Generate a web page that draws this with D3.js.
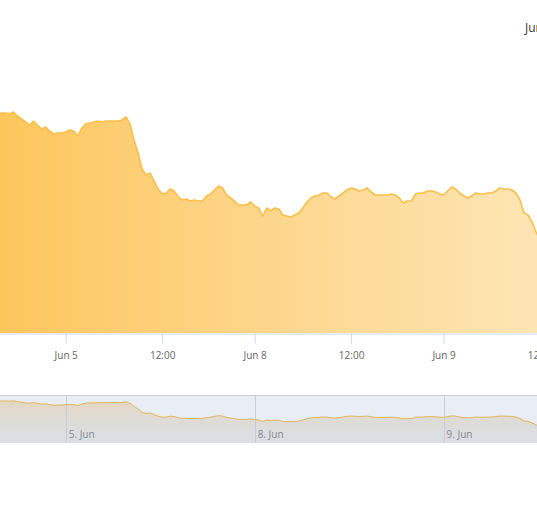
<!DOCTYPE html>
<html><head><meta charset="utf-8">
<script src="https://cdn.jsdelivr.net/npm/d3@7"></script>
<style>html,body{margin:0;padding:0;background:#fff;overflow:hidden}</style>
</head><body><svg id="c" width="537" height="512"></svg>
<script>
// ---- data ----
const price = [
128.20,128.20,128.20,128.19,128.21,128.17,128.14,128.11,128.08,128.12,
128.08,128.04,128.06,128.02,127.99,128.00,128.00,128.01,128.03,128.02,
127.97,128.05,128.09,128.10,128.11,128.12,128.11,128.12,128.12,128.12,
128.12,128.13,128.16,128.09,127.93,127.80,127.64,127.58,127.60,127.52,
127.44,127.39,127.40,127.44,127.42,127.36,127.33,127.34,127.32,127.33,
127.32,127.32,127.37,127.39,127.43,127.47,127.45,127.38,127.35,127.32,
127.28,127.28,127.28,127.31,127.27,127.25,127.17,127.25,127.22,127.25,
127.24,127.18,127.17,127.16,127.18,127.20,127.25,127.31,127.35,127.37,
127.38,127.40,127.40,127.36,127.34,127.37,127.40,127.43,127.45,127.44,
127.42,127.43,127.45,127.41,127.38,127.38,127.38,127.38,127.39,127.38,
127.35,127.30,127.32,127.32,127.39,127.40,127.40,127.42,127.42,127.41,
127.39,127.38,127.42,127.46,127.44,127.40,127.37,127.35,127.37,127.40,
127.39,127.39,127.40,127.40,127.42,127.45,127.44,127.44,127.43,127.40,
127.33,127.20,127.18,127.11,127.01,126.93
];
const axisTickIndex = [17, 41, 64, 88, 111, 135];
const axisTickLabels = ["Jun 5", "12:00", "Jun 8", "12:00", "Jun 9", "12:00"];
const navTickIndex = [17, 64, 111];
const navTickLabels = ["5. Jun", "8. Jun", "9. Jun"];
const rangeInputText = "Jun 4, 2015";

// ---- layout ----
const plotLeft = -2.64, step = 4.02;
const plotTop = 53, plotBottom = 333;
const navTop = 395, navBottom = 443;
const font = "'Open Sans', sans-serif";

const svg = d3.select('#c');
const x = d3.scaleLinear().domain([0, price.length - 1])
  .range([plotLeft, plotLeft + step * (price.length - 1)]);
const y = d3.scaleLinear().domain([126, 128.8]).range([plotBottom, plotTop]);
const yNav = d3.scaleLinear().domain([126.1, 128.5]).range([navBottom, navTop]);

const defs = svg.append('defs');
const g1 = defs.append('linearGradient').attr('id', 'mainFill')
  .attr('gradientUnits', 'userSpaceOnUse')
  .attr('x1', 0).attr('y1', 0).attr('x2', 537).attr('y2', 0);
g1.append('stop').attr('offset', 0).attr('stop-color', '#fdc65c');
g1.append('stop').attr('offset', 0.5).attr('stop-color', '#fdd68c');
g1.append('stop').attr('offset', 1).attr('stop-color', '#fde5b4');

const g2 = defs.append('linearGradient').attr('id', 'navFill')
  .attr('x1', 0).attr('y1', 0).attr('x2', 0).attr('y2', 1);
g2.append('stop').attr('offset', 0).attr('stop-color', '#f3c06a').attr('stop-opacity', 0.4);
g2.append('stop').attr('offset', 1).attr('stop-color', '#c8c8c8').attr('stop-opacity', 0.3);

// ---- main area ----
const area = d3.area().x((d, i) => x(i)).y0(plotBottom).y1(d => y(d));
const line = d3.line().x((d, i) => x(i)).y(d => y(d));
svg.append('path').datum(price).attr('d', area).attr('fill', 'url(#mainFill)');
svg.append('path').datum(price).attr('d', line).attr('fill', 'none')
  .attr('stroke', '#f9bf4b').attr('stroke-width', 1.6).attr('stroke-linejoin', 'round');

// ---- x axis ----
const xAxis = d3.axisBottom(x).tickValues(axisTickIndex)
  .tickFormat((d, i) => axisTickLabels[i]).tickSize(10).tickSizeOuter(0).tickPadding(8);
const ax = svg.append('g').attr('transform', `translate(0,${plotBottom + 0.5})`).call(xAxis);
ax.select('.domain').attr('stroke', '#ccd6eb');
ax.selectAll('.tick line').attr('stroke', '#ccd6eb');
ax.selectAll('.tick text').attr('fill', '#666666')
  .style('font-family', font).style('font-size', '10px');

// ---- navigator ----
const nav = svg.append('g');
nav.append('rect').attr('x', 0).attr('y', navTop).attr('width', 537)
  .attr('height', navBottom - navTop).attr('fill', '#ffffff');
const navArea = d3.area().x((d, i) => x(i)).y0(navBottom).y1(d => yNav(d));
const navLine = d3.line().x((d, i) => x(i)).y(d => yNav(d));
nav.append('path').datum(price).attr('d', navArea).attr('fill', 'url(#navFill)');
nav.selectAll('line.grid').data(navTickIndex).enter().append('line')
  .attr('x1', d => Math.round(x(d)) + 0.5).attr('x2', d => Math.round(x(d)) + 0.5)
  .attr('y1', navTop).attr('y2', navBottom).attr('stroke', '#d9d9d9').attr('stroke-width', 1);
nav.append('path').datum(price).attr('d', navLine).attr('fill', 'none')
  .attr('stroke', '#f5bd48').attr('stroke-width', 1);
nav.selectAll('text.nl').data(navTickIndex).enter().append('text')
  .attr('x', d => x(d) + 3).attr('y', navBottom - 5)
  .attr('fill', '#8a8a8a').style('font-family', font).style('font-size', '10px')
  .text((d, i) => navTickLabels[i]);
nav.append('rect').attr('x', 0).attr('y', navTop).attr('width', 537)
  .attr('height', navBottom - navTop).attr('fill', 'rgba(102,133,194,0.14)');
nav.append('line').attr('x1', 0).attr('x2', 537).attr('y1', navTop + 0.5).attr('y2', navTop + 0.5)
  .attr('stroke', '#cccccc');

// ---- range selector input (cut off at the edge, as in the reference) ----
svg.append('text').attr('x', 525).attr('y', 32).attr('fill', '#333333')
  .style('font-family', font).style('font-size', '12px').text(rangeInputText);
</script></body></html>
